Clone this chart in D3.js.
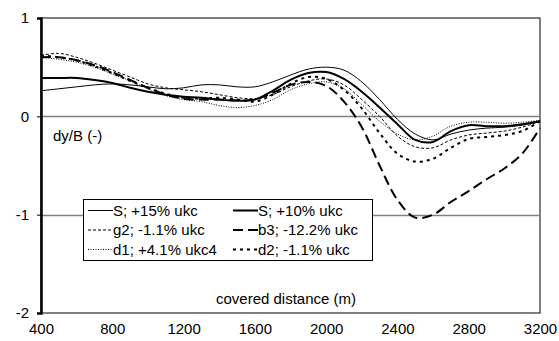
<!DOCTYPE html>
<html>
<head>
<meta charset="utf-8">
<script src="https://cdn.jsdelivr.net/npm/d3@7"></script>
<style>
  body { margin: 0; background: #fff; }
  text { font-family: Arial, "Liberation Sans", sans-serif; }
</style>
</head>
<body>
<div id="chart"></div>
<script>
// covered distance (m)
const distance = [400, 500, 600, 700, 800, 900, 1000, 1100, 1200, 1300, 1400, 1500, 1600, 1700, 1800, 1900, 2000,
  2100, 2200, 2300, 2400, 2500, 2600, 2700, 2800, 2900, 3000, 3100, 3200];

// dy/B (-)
const s15 = [0.26, 0.28, 0.30, 0.32, 0.33, 0.32, 0.30, 0.28, 0.29, 0.32, 0.32, 0.30, 0.30, 0.35, 0.42, 0.48, 0.50,
  0.47, 0.35, 0.17, -0.03, -0.18, -0.24, -0.18, -0.14, -0.12, -0.11, -0.09, -0.05];
const s10 = [0.39, 0.39, 0.39, 0.37, 0.34, 0.29, 0.25, 0.22, 0.20, 0.19, 0.17, 0.16, 0.17, 0.26, 0.37, 0.44, 0.45,
  0.38, 0.25, 0.09, -0.08, -0.24, -0.26, -0.15, -0.09, -0.10, -0.10, -0.08, -0.05];
const g2 = [0.62, 0.64, 0.60, 0.54, 0.47, 0.40, 0.33, 0.29, 0.27, 0.25, 0.22, 0.19, 0.18, 0.22, 0.30, 0.36, 0.38,
  0.32, 0.17, 0.00, -0.20, -0.31, -0.32, -0.24, -0.19, -0.17, -0.15, -0.11, -0.05];
const b3 = [0.60, 0.60, 0.57, 0.52, 0.45, 0.37, 0.29, 0.22, 0.18, 0.17, 0.17, 0.16, 0.17, 0.24, 0.32, 0.35, 0.31,
  0.15, -0.11, -0.50, -0.85, -1.03, -1.00, -0.87, -0.76, -0.64, -0.53, -0.38, -0.12];
const d1 = [0.60, 0.58, 0.55, 0.50, 0.43, 0.36, 0.28, 0.21, 0.17, 0.15, 0.11, 0.09, 0.11, 0.17, 0.27, 0.33, 0.35,
  0.28, 0.12, -0.05, -0.18, -0.24, -0.20, -0.10, -0.06, -0.06, -0.07, -0.06, -0.04];
const d2 = [0.62, 0.60, 0.57, 0.51, 0.44, 0.36, 0.29, 0.23, 0.19, 0.18, 0.19, 0.17, 0.15, 0.22, 0.33, 0.40, 0.38,
  0.27, 0.08, -0.17, -0.38, -0.46, -0.43, -0.32, -0.23, -0.21, -0.19, -0.15, -0.05];

const xTicks = [400, 800, 1200, 1600, 2000, 2400, 2800, 3200];
const yTicks = [1, 0, -1, -2];

// legend order: row by row, two columns
const series = [
  { name: "S; +15% ukc", values: s15, width: 1, dash: null },
  { name: "S; +10% ukc", values: s10, width: 2, dash: null },
  { name: "g2; -1.1% ukc", values: g2, width: 1, dash: "3,2" },
  { name: "b3; -12.2% ukc", values: b3, width: 2, dash: "10,5" },
  { name: "d1; +4.1% ukc4", values: d1, width: 1, dash: "1,1.5" },
  { name: "d2; -1.1% ukc", values: d2, width: 2, dash: "3,4" },
];

const width = 559, height = 341;
const margin = { left: 41, right: 19, top: 18, bottom: 28 };
const innerWidth = width - margin.left - margin.right;
const innerHeight = height - margin.top - margin.bottom;
const fontSize = 15;

const svg = d3.select("#chart").append("svg")
  .attr("width", width)
  .attr("height", height);
const g = svg.append("g")
  .attr("transform", `translate(${margin.left},${margin.top})`);

const x = d3.scaleLinear().domain([400, 3200]).range([0, innerWidth]);
const y = d3.scaleLinear().domain([-2, 1]).range([innerHeight, 0]);

// frame
g.append("rect")
  .attr("width", innerWidth).attr("height", innerHeight)
  .attr("fill", "none").attr("stroke", "#000").attr("stroke-width", 1);

// gridlines at 0 and -1
g.selectAll(".grid")
  .data([0, -1])
  .join("line")
  .attr("x1", 0).attr("x2", innerWidth)
  .attr("y1", d => Math.round(y(d)) + 0.5).attr("y2", d => Math.round(y(d)) + 0.5)
  .attr("stroke", "#808080").attr("stroke-width", 1.5);

// y axis (plain hyphen for negatives, like the original)
const yAxis = g.append("g")
  .call(d3.axisLeft(y).tickValues(yTicks).tickSize(4).tickPadding(8).tickFormat(d => String(d)));
yAxis.select(".domain").attr("stroke-width", 2.5);
yAxis.selectAll("text").attr("font-size", fontSize).attr("font-family", "Arial, 'Liberation Sans', sans-serif");

// x axis labels (no ticks)
const xAxis = g.append("g")
  .attr("transform", `translate(0,${innerHeight})`)
  .call(d3.axisBottom(x).tickValues(xTicks).tickSize(0).tickPadding(10).tickFormat(d => String(d)));
xAxis.select(".domain").remove();
xAxis.selectAll("text").attr("font-size", fontSize).attr("font-family", "Arial, 'Liberation Sans', sans-serif");

// lines
const line = d3.line()
  .x((d, i) => x(distance[i]))
  .y(d => y(d))
  .curve(d3.curveCatmullRom.alpha(0.5));

g.selectAll(".series")
  .data(series)
  .join("path")
  .attr("d", d => line(d.values))
  .attr("fill", "none")
  .attr("stroke", "#000")
  .attr("stroke-width", d => d.width)
  .attr("stroke-dasharray", d => d.dash);

// axis titles
g.append("text")
  .attr("x", 12).attr("y", y(0) + 25)
  .attr("font-size", fontSize)
  .text("dy/B (-)");
g.append("text")
  .attr("x", 245).attr("y", innerHeight - 9)
  .attr("font-size", fontSize)
  .attr("text-anchor", "middle")
  .text("covered distance (m)");

// legend
const legend = g.append("g").attr("transform", `translate(${83 - margin.left},${199 - margin.top})`);
legend.append("rect")
  .attr("x", 0.5).attr("y", 0.5)
  .attr("width", 289).attr("height", 61)
  .attr("fill", "#fff").attr("stroke", "#000");
const items = legend.selectAll(".item")
  .data(series)
  .join("g")
  .attr("transform", (d, i) => `translate(${(i % 2) * 145 + 5},${Math.floor(i / 2) * 19.5 + 11.5})`);
items.append("line")
  .attr("x1", 0).attr("x2", 25)
  .attr("stroke", "#000")
  .attr("stroke-width", d => d.width)
  .attr("stroke-dasharray", d => d.dash);
items.append("text")
  .attr("x", 25).attr("dy", "0.35em")
  .attr("font-size", fontSize)
  .text(d => d.name);
</script>
</body>
</html>
